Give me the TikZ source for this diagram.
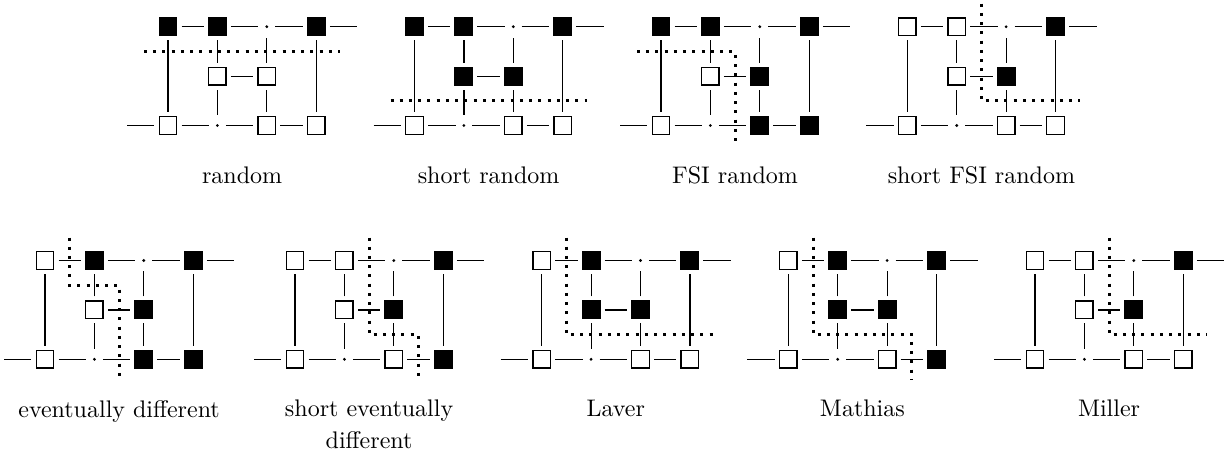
\documentclass[tikz,border=0pt]{standalone}
\newcommand\gridd{49.4}
\newcommand\gridh{24.7}
\newcommand\cichon[9]{%
  \node[#2] (#1cN) at (0,0) {};
  \node[#3] (#1nM) at (\gridd,0) {};
  \node[dotnode] (#1cfM) at (2*\gridd,0) {};
  \node[#4] (#1cfN) at (3*\gridd,0) {};
  \coordinate (#1c) at (3*\gridd+41,0);
  \node[#5] (#1b) at (\gridd,\gridd) {};
  \node[#6] (#1d) at (2*\gridd,\gridd) {};
  \coordinate (#1a) at (-41,2*\gridd);
  \node[#7] (#1aN) at (0,2*\gridd) {};
  \node[dotnode] (#1aM) at (\gridd,2*\gridd) {};
  \node[#8] (#1cM) at (2*\gridd,2*\gridd) {};
  \node[#9] (#1nN) at (3*\gridd,2*\gridd) {};
  \draw[conn] (#1cN) -- (#1nM);
  \draw[conn] (#1nM) -- (#1cfM);
  \draw[conn] (#1cfM) -- (#1cfN);
  \draw[conn] (#1cfN) -- (#1c);
  \draw[conn] (#1a) -- (#1aN);
  \draw[conn] (#1aN) -- (#1aM);
  \draw[conn] (#1aM) -- (#1cM);
  \draw[conn] (#1cM) -- (#1nN);
  \draw[conn] (#1b) -- (#1d);
  \draw[conn] (#1aN) -- (#1cN);
  \draw[conn] (#1aM) -- (#1b);
  \draw[conn] (#1b) -- (#1nM);
  \draw[conn] (#1cM) -- (#1d);
  \draw[conn] (#1d) -- (#1cfM);
  \draw[conn] (#1nN) -- (#1cfN);
}
\begin{document}
\begin{tikzpicture}[x=0.41667pt,y=-0.41667pt,
  sqbox/.style={rectangle,draw=black,line width=0.6pt,minimum size=7.3pt,inner sep=0pt,outer sep=2pt},
  F/.style={sqbox,fill=black},
  E/.style={sqbox,fill=white},
  dotnode/.style={rectangle,inner sep=0pt,minimum width=7pt,minimum height=9pt,outer sep=0pt,
     path picture={\fill[black] (path picture bounding box.center) circle (0.65pt);}},
  conn/.style={line width=0.5pt},
  cut/.style={line width=1.25pt,dash pattern=on 1.25pt off 2.6pt},
  lab/.style={anchor=north,align=center,inner sep=3.33pt,font=\fontsize{10}{13.2}\selectfont}]
\useasboundingbox (0,0) rectangle (1225,453);
% ---- top row ----
\begin{scope}[shift={(168,26.7)}]
  \cichon{pa}{F}{F}{F}{E}{E}{E}{E}{E}
  \draw[cut] (-24,\gridh) -- (3*\gridd+24,\gridh);
  \node[lab] (palab) at (1.5*\gridd,2*\gridd+32.4) {random};
\end{scope}
\begin{scope}[shift={(414.5,26.7)}]
  \cichon{pb}{F}{F}{F}{F}{F}{E}{E}{E}
  \draw[cut] (-24,\gridd+\gridh) -- (3*\gridd+24,\gridd+\gridh);
  \node[lab] (pblab) at (1.5*\gridd,2*\gridd+32.4) {short random};
\end{scope}
\begin{scope}[shift={(661,26.7)}]
  \cichon{pc}{F}{F}{F}{E}{F}{E}{F}{F}
  \draw[cut] (-24,\gridh) -- (\gridd+\gridh,\gridh) -- (\gridd+\gridh,2*\gridd+20);
  \node[lab] (pclab) at (1.5*\gridd,2*\gridd+32.4) {FSI random};
\end{scope}
\begin{scope}[shift={(907.3,26.7)}]
  \cichon{pd}{E}{E}{F}{E}{F}{E}{E}{E}
  \draw[cut] (\gridd+\gridh,-23) -- (\gridd+\gridh,\gridd+\gridh) -- (3*\gridd+24,\gridd+\gridh);
  \node[lab] (pdlab) at (1.5*\gridd,2*\gridd+32.4) {short FSI random};
\end{scope}
% ---- bottom row ----
\begin{scope}[shift={(45,260.5)}]
  \cichon{pe}{E}{F}{F}{E}{F}{E}{F}{F}
  \draw[cut] (\gridh,-23) -- (\gridh,\gridh) -- (\gridd+\gridh,\gridh) -- (\gridd+\gridh,2*\gridd+20);
  \node[lab] (pelab) at (1.5*\gridd,2*\gridd+32.4) {eventually different};
\end{scope}
\begin{scope}[shift={(295,260.5)}]
  \cichon{pf}{E}{E}{F}{E}{F}{E}{E}{F}
  \draw[cut] (\gridd+\gridh,-23) -- (\gridd+\gridh,\gridd+\gridh) -- (2*\gridd+\gridh,\gridd+\gridh) -- (2*\gridd+\gridh,2*\gridd+20);
  \node[lab] (pflab) at (1.5*\gridd,2*\gridd+32.4) {short eventually\\different};
\end{scope}
\begin{scope}[shift={(541.7,260.5)}]
  \cichon{pg}{E}{F}{F}{F}{F}{E}{E}{E}
  \draw[cut] (\gridh,-23) -- (\gridh,\gridd+\gridh) -- (3*\gridd+24,\gridd+\gridh);
  \node[lab] (pglab) at (1.5*\gridd,2*\gridd+32.4) {Laver};
\end{scope}
\begin{scope}[shift={(788.3,260.5)}]
  \cichon{ph}{E}{F}{F}{F}{F}{E}{E}{F}
  \draw[cut] (\gridh,-23) -- (\gridh,\gridd+\gridh) -- (2*\gridd+\gridh,\gridd+\gridh) -- (2*\gridd+\gridh,2*\gridd+20);
  \node[lab] (phlab) at (1.5*\gridd,2*\gridd+32.4) {Mathias};
\end{scope}
\begin{scope}[shift={(1035,260.5)}]
  \cichon{pi}{E}{E}{F}{E}{F}{E}{E}{E}
  \draw[cut] (\gridd+\gridh,-23) -- (\gridd+\gridh,\gridd+\gridh) -- (3*\gridd+24,\gridd+\gridh);
  \node[lab] (pilab) at (1.5*\gridd,2*\gridd+32.4) {Miller};
\end{scope}
\end{tikzpicture}
\end{document}
